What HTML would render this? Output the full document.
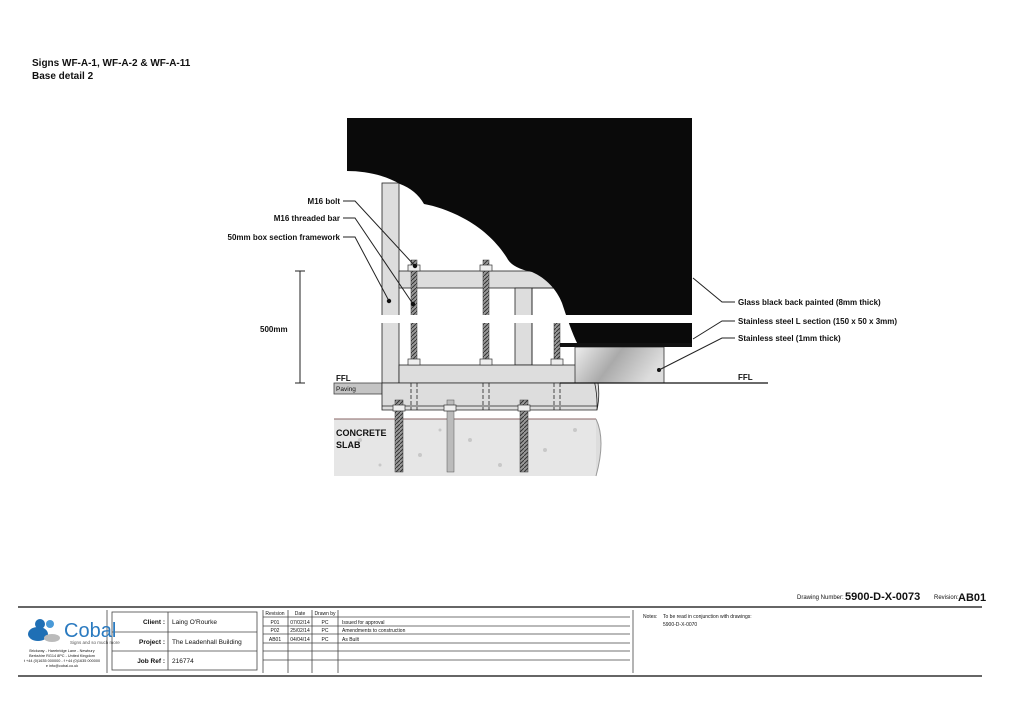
<!DOCTYPE html>
<html><head><meta charset="utf-8"><style>
body{margin:0;background:#fff;width:1024px;height:724px;overflow:hidden}
svg{display:block}
text{font-family:"Liberation Sans",sans-serif;fill:#111}
</style></head><body>
<svg width="1024" height="724" viewBox="0 0 1024 724" xmlns="http://www.w3.org/2000/svg">
<defs>
<linearGradient id="ss" x1="0" y1="0" x2="1" y2="0.3"><stop offset="0" stop-color="#eee"/><stop offset="0.5" stop-color="#aaa"/><stop offset="1" stop-color="#ddd"/></linearGradient>
<pattern id="thr" width="4" height="4" patternUnits="userSpaceOnUse"><rect width="4" height="4" fill="#999"/><path d="M0 4L4 0" stroke="#333" stroke-width="1"/></pattern>
</defs>
<text x="32" y="66" font-size="10" font-weight="bold">Signs WF-A-1, WF-A-2 &amp; WF-A-11</text>
<text x="32" y="79" font-size="10" font-weight="bold">Base detail 2</text>

<!-- concrete -->
<rect x="334" y="419" width="262" height="57" fill="#e6e6e6"/>
<line x1="334" y1="419" x2="596" y2="419" stroke="#866" stroke-width="1"/>
<g fill="#c8c8c8"><circle cx="360" cy="440" r="2"/><circle cx="420" cy="455" r="2"/><circle cx="470" cy="440" r="2"/><circle cx="500" cy="465" r="2"/><circle cx="545" cy="450" r="2"/><circle cx="575" cy="430" r="2"/><circle cx="380" cy="465" r="1.5"/><circle cx="440" cy="430" r="1.5"/></g>
<path d="M596 419 Q606 440 596 476" fill="#ddd" stroke="#999"/>
<!-- paving -->
<rect x="334" y="383" width="48" height="11" fill="#c4c4c4" stroke="#444" stroke-width="0.8"/>
<text x="336" y="381" font-size="8" font-weight="bold">FFL</text>
<text x="336" y="391" font-size="6.5">Paving</text>
<text x="336" y="436" font-size="9" font-weight="bold">CONCRETE</text>
<text x="336" y="448" font-size="9" font-weight="bold">SLAB</text>

<!-- framework -->
<g fill="#ddd" stroke="#222" stroke-width="0.8">
<rect x="382" y="183" width="17" height="200"/>
<rect x="399" y="271" width="200" height="17"/>
<rect x="515" y="288" width="17" height="77"/>
<rect x="399" y="365" width="190" height="18"/>
<path d="M382 383 H598 Q600 396 597 410 H382 Z"/>
</g>
<line x1="532" y1="288" x2="600" y2="288" stroke="#222" stroke-width="0.8"/>
<line x1="532" y1="288" x2="532" y2="365" stroke="#222" stroke-width="0.8"/>
<line x1="382" y1="406" x2="597" y2="406" stroke="#222" stroke-width="0.8"/>
<!-- threaded bars -->
<g fill="url(#thr)" stroke="#333" stroke-width="0.5">
<rect x="411" y="260" width="6" height="105"/><rect x="483" y="260" width="6" height="105"/><rect x="554" y="320" width="6" height="45"/>
<rect x="395" y="400" width="8" height="72"/><rect x="520" y="400" width="8" height="72"/>
</g>
<g fill="#bbb" stroke="#555" stroke-width="0.5"><rect x="447" y="400" width="7" height="72"/></g>
<g fill="#eee" stroke="#333" stroke-width="0.7">
<rect x="408" y="265" width="12" height="6"/><rect x="480" y="265" width="12" height="6"/>
<rect x="408" y="359" width="12" height="6"/><rect x="480" y="359" width="12" height="6"/><rect x="551" y="359" width="12" height="6"/>
<rect x="393" y="405" width="12" height="6"/><rect x="444" y="405" width="12" height="6"/><rect x="518" y="405" width="12" height="6"/>
</g>
<g stroke="#222" stroke-width="0.8" stroke-dasharray="4 2">
<line x1="411" y1="383" x2="411" y2="410"/><line x1="417" y1="383" x2="417" y2="410"/>
<line x1="483" y1="383" x2="483" y2="410"/><line x1="489" y1="383" x2="489" y2="410"/>
<line x1="554" y1="383" x2="554" y2="410"/><line x1="560" y1="383" x2="560" y2="410"/>
</g>

<!-- black panel -->
<path d="M347 118 H692 V345 H578 C572 333 567 318 562 303 C557 290 546 278 532 272 Q512 268 507 258 C497 242 482 228 463 218 C448 210 435 206 424 204 Q416 190 400 184 C385 175 365 171 347 171 Z" fill="#0a0a0a"/>
<!-- cloud outline lower -->
<path d="M578 345 C590 360 598 385 597 410" fill="none" stroke="#222" stroke-width="0.8"/>
<!-- stainless box -->
<rect x="575" y="347" width="89" height="36" fill="url(#ss)" stroke="#333" stroke-width="0.8"/>
<rect x="560" y="343" width="132" height="4" fill="#111"/>
<circle cx="659" cy="370" r="2" fill="#111"/>
<line x1="560" y1="383" x2="768" y2="383" stroke="#111" stroke-width="1.2"/>
<text x="738" y="380" font-size="8" font-weight="bold">FFL</text>

<!-- break band -->
<rect x="330" y="315" width="380" height="8" fill="#fff"/>

<!-- leaders -->
<g stroke="#222" stroke-width="1" fill="none">
<path d="M343 201 H355 L415 266"/><path d="M343 218 H355 L413 304"/><path d="M343 237 H355 L389 301"/>
<path d="M693 278 L722 302 H735"/><path d="M693 339 L722 321 H735"/><path d="M659 370 L722 338 H735"/>
<line x1="300" y1="271" x2="300" y2="383"/><line x1="295" y1="271" x2="305" y2="271"/><line x1="295" y1="383" x2="305" y2="383"/>
</g>
<g fill="#111"><circle cx="415" cy="266" r="2.2"/><circle cx="413" cy="304" r="2.2"/><circle cx="389" cy="301" r="2.2"/></g>
<g font-size="8" font-weight="bold" text-anchor="end">
<text x="340" y="204">M16 bolt</text><text x="340" y="221">M16 threaded bar</text><text x="340" y="240">50mm box section framework</text>
</g>
<text x="260" y="332" font-size="8" font-weight="bold">500mm</text>
<g font-size="8" font-weight="bold">
<text x="738" y="305">Glass black back painted (8mm thick)</text>
<text x="738" y="324">Stainless steel L section (150 x 50 x 3mm)</text>
<text x="738" y="341">Stainless steel (1mm thick)</text>
</g>

<!-- title block -->
<text x="797" y="599" font-size="6">Drawing Number:</text>
<text x="845" y="600" font-size="11" font-weight="bold">5900-D-X-0073</text>
<text x="934" y="599" font-size="6">Revision:</text>
<text x="958" y="601" font-size="11" font-weight="bold">AB01</text>
<line x1="18" y1="607" x2="982" y2="607" stroke="#333" stroke-width="1.5"/>
<line x1="18" y1="676" x2="982" y2="676" stroke="#333" stroke-width="1.5"/>
<g stroke="#444" stroke-width="0.8" fill="none">
<line x1="107" y1="610" x2="107" y2="673"/>
<rect x="112" y="612" width="145" height="58"/>
<line x1="112" y1="632" x2="257" y2="632"/><line x1="112" y1="651" x2="257" y2="651"/>
<line x1="168" y1="612" x2="168" y2="670"/>
<line x1="263" y1="610" x2="263" y2="673"/>
<line x1="288" y1="610" x2="288" y2="673"/><line x1="312" y1="610" x2="312" y2="673"/><line x1="338" y1="610" x2="338" y2="673"/>
<line x1="263" y1="617" x2="630" y2="617"/><line x1="263" y1="626" x2="630" y2="626"/><line x1="263" y1="634" x2="630" y2="634"/>
<line x1="263" y1="643" x2="630" y2="643"/><line x1="263" y1="651" x2="630" y2="651"/><line x1="263" y1="660" x2="630" y2="660"/>
<line x1="633" y1="610" x2="633" y2="673"/>
</g>
<g font-size="6.5" font-weight="bold" text-anchor="end"><text x="165" y="624">Client :</text><text x="165" y="644">Project :</text><text x="165" y="663">Job Ref :</text></g>
<g font-size="6.5"><text x="172" y="624">Laing O'Rourke</text><text x="172" y="644">The Leadenhall Building</text><text x="172" y="663">216774</text></g>
<g font-size="5" text-anchor="middle"><text x="275" y="615">Revision</text><text x="300" y="615">Date</text><text x="325" y="615">Drawn by</text>
<text x="275" y="624">P01</text><text x="300" y="624">07/02/14</text><text x="325" y="624">PC</text>
<text x="275" y="632">P02</text><text x="300" y="632">25/02/14</text><text x="325" y="632">PC</text>
<text x="275" y="641">AB01</text><text x="300" y="641">04/04/14</text><text x="325" y="641">PC</text></g>
<g font-size="5"><text x="342" y="624">Issued for approval</text><text x="342" y="632">Amendments to construction</text><text x="342" y="641">As Built</text>
<text x="643" y="618">Notes:</text><text x="663" y="618">To be read in conjunction with drawings:</text><text x="663" y="626">5900-D-X-0070</text></g>
<!-- logo -->
<circle cx="40" cy="624" r="5" fill="#1f6fb5"/><circle cx="50" cy="624" r="4" fill="#4a9ad8"/>
<ellipse cx="38" cy="634" rx="10" ry="7" fill="#1f6fb5"/><ellipse cx="52" cy="638" rx="8" ry="4" fill="#bbb"/>
<text x="64" y="637" font-size="20" style="fill:#2a7ac0">Cobal</text>
<text x="70" y="644" font-size="4.5" style="fill:#555">Signs and so much more</text>
<g font-size="3.8" text-anchor="middle"><text x="62" y="652">Brickway - Harebridge Lane - Newbury</text><text x="62" y="657">Berkshire RG14 8PC - United Kingdom</text><text x="62" y="662">t +44 (0)1635 000000 - f +44 (0)1635 000000</text><text x="62" y="667">e info@cobal.co.uk</text></g>
</svg>
</body></html>
